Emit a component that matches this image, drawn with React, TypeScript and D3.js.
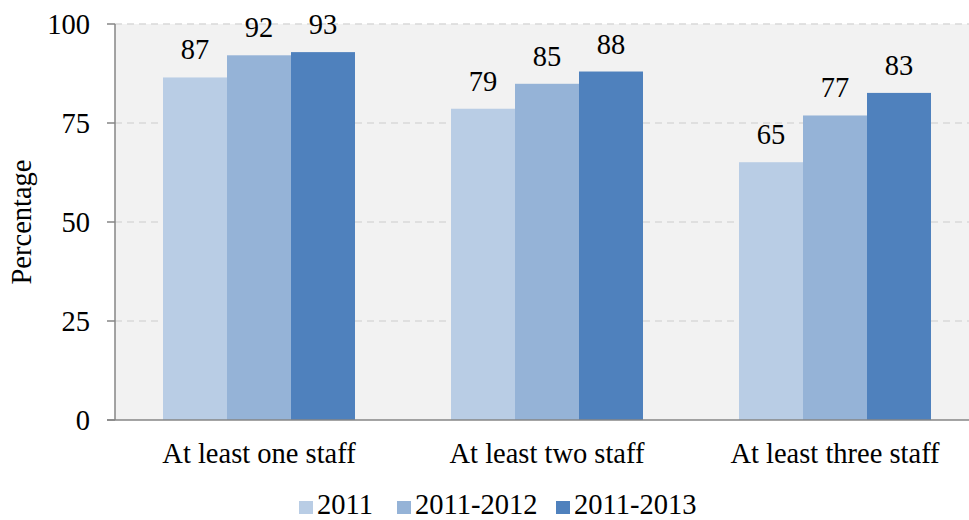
import React from 'react'
import * as d3 from 'd3'

const categories = ['At least one staff', 'At least two staff', 'At least three staff']
const seriesNames = ['2011', '2011-2012', '2011-2013']
const series2011 = [86.5, 78.6, 65.1]
const series2012 = [92.1, 84.9, 76.9]
const series2013 = [92.9, 88.0, 82.6]
const yTicks = [0, 25, 50, 75, 100]
const colors = ['#b9cde5', '#95b3d7', '#4f81bd']

const W = 969
const H = 520
const margin = { top: 24, right: -10, bottom: 100, left: 115 }
const font = '"Liberation Serif", "Times New Roman", serif'
const fs = 28.5

export default function App() {
  const x0 = d3.scaleBand()
    .domain(categories)
    .range([margin.left, W - margin.right])
    .paddingInner(1 / 3)
    .paddingOuter(1 / 6)
  const x1 = d3.scaleBand()
    .domain(seriesNames)
    .range([0, x0.bandwidth()])
  const y = d3.scaleLinear()
    .domain([0, 100])
    .range([H - margin.bottom, margin.top])

  const allSeries = [series2011, series2012, series2013]
  const bottom = y(0)

  // legend positions (square left edge)
  const legendX = [299, 397, 556]

  return (
    <svg width={W} height={H} style={{ display: 'block', position: 'absolute', left: 0, top: 0 }} fontFamily={font}>
      <rect x={margin.left} y={margin.top} width={W - margin.left - margin.right} height={bottom - margin.top} fill="#f2f2f2" />
      {yTicks.filter(t => t > 0).map(t => (
        <line key={t} x1={margin.left} x2={W} y1={y(t)} y2={y(t)} stroke="#d9d9d9" strokeWidth={1.3} strokeDasharray="7,5" />
      ))}
      {categories.map((c, i) => (
        <g key={c} transform={`translate(${x0(c)},0)`}>
          {allSeries.map((s, j) => (
            <g key={j}>
              <rect x={x1(seriesNames[j])} y={y(s[i])} width={x1.bandwidth()} height={bottom - y(s[i])} fill={colors[j]} />
              <text x={(x1(seriesNames[j]) as number) + x1.bandwidth() / 2} y={y(s[i]) - 18} textAnchor="middle" fontSize={fs} fontFamily={font} fill="#000">
                {Math.round(s[i])}
              </text>
            </g>
          ))}
        </g>
      ))}
      {/* y axis */}
      <line x1={margin.left} x2={margin.left} y1={margin.top} y2={bottom} stroke="#868686" strokeWidth={1.5} />
      {yTicks.map(t => (
        <g key={t}>
          <line x1={margin.left - 8} x2={margin.left} y1={y(t)} y2={y(t)} stroke="#868686" strokeWidth={1.5} />
          <text x={90} y={y(t) + 9.5} textAnchor="end" fontSize={fs} fontFamily={font} fill="#000">{t}</text>
        </g>
      ))}
      {/* x axis */}
      <line x1={margin.left - 8} x2={W} y1={bottom} y2={bottom} stroke="#868686" strokeWidth={1.5} />
      {categories.map(c => (
        <text key={c} x={(x0(c) as number) + x0.bandwidth() / 2} y={463} textAnchor="middle" fontSize={fs} fontFamily={font} fill="#000">{c}</text>
      ))}
      <text transform={`translate(31,${(margin.top + bottom) / 2}) rotate(-90)`} textAnchor="middle" fontSize={fs} fontFamily={font} fill="#000">Percentage</text>
      {/* legend */}
      {seriesNames.map((n, i) => (
        <g key={n}>
          <rect x={legendX[i]} y={501} width={14} height={13} fill={colors[i]} />
          <text x={legendX[i] + 18} y={513.5} fontSize={fs} fontFamily={font} fill="#000">{n}</text>
        </g>
      ))}
    </svg>
  )
}
